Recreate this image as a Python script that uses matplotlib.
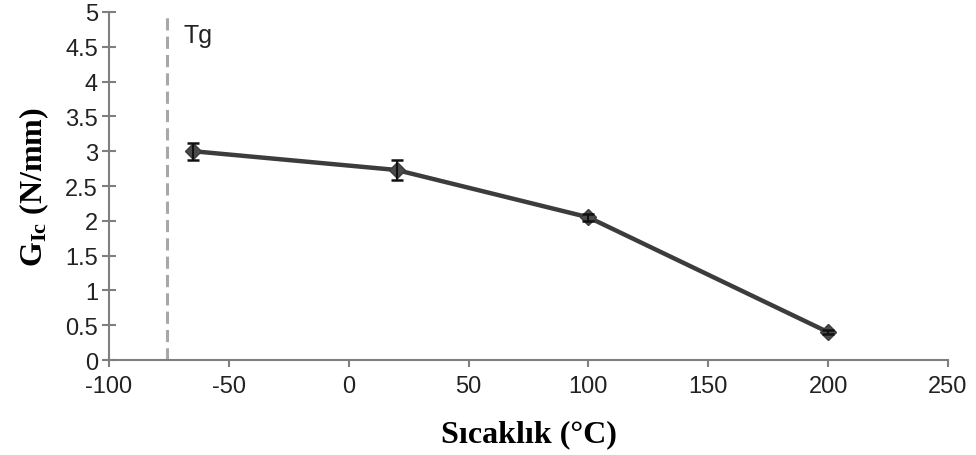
import matplotlib.pyplot as plt

plt.rcParams['mathtext.fontset'] = 'custom'
plt.rcParams['mathtext.bf'] = 'Liberation Serif:bold'
plt.rcParams['mathtext.rm'] = 'Liberation Serif'

# data
temps = [-65, 20, 100, 200]
gic = [3.0, 2.73, 2.05, 0.40]
gic_err = [0.12, 0.14, 0.05, 0.03]
tg = -76
x_ticks = [-100, -50, 0, 50, 100, 150, 200, 250]
y_ticks = [0, 0.5, 1, 1.5, 2, 2.5, 3, 3.5, 4, 4.5, 5]

fig = plt.figure(figsize=(9.76, 4.56), dpi=100)
ax = fig.add_axes([0.1117, 0.2083, 0.8596, 0.7632])

ax.axvline(tg, color='#a8a8a8', lw=2.2, ls=(0, (4, 2)), zorder=1)
ax.text(tg + 7, 4.57, 'Tg', fontsize=18, family='Liberation Sans',
        color='#222222', va='baseline')

ax.plot(temps, gic, color='#3c3c3c', lw=3.2, marker='D', ms=8,
        mfc='#4a4a4a', mec='#3c3c3c', zorder=3)
ax.errorbar(temps, gic, yerr=gic_err, fmt='none', ecolor='#111111',
            elinewidth=1.5, capsize=4, capthick=1.8, zorder=4)

ax.set_xlim(-100, 250)
ax.set_ylim(0, 5)
ax.set_xticks(x_ticks)
ax.set_yticks(y_ticks)
ax.set_xticklabels([str(v) for v in x_ticks])
ax.set_yticklabels([('%g' % v) for v in y_ticks])

for s in ['top', 'right']:
    ax.spines[s].set_visible(False)
for s in ['left', 'bottom']:
    ax.spines[s].set_color('#7f7f7f')
    ax.spines[s].set_linewidth(1.5)

ax.tick_params(axis='y', direction='inout', length=10, width=1.5,
               color='#7f7f7f', pad=3, labelsize=17, labelcolor='#222222')
ax.tick_params(axis='x', direction='out', length=5, width=1.5,
               color='#7f7f7f', pad=6, labelsize=17, labelcolor='#222222')
for lab in ax.get_xticklabels() + ax.get_yticklabels():
    lab.set_family('Liberation Sans')

ax.set_xlabel('Sıcaklık (°C)', fontsize=23, family='Liberation Serif',
              fontweight='bold', labelpad=16)
ax.set_ylabel(r'$\mathbf{G_{Ic}}$ (N/mm)', fontsize=23,
              family='Liberation Serif', fontweight='bold', labelpad=10)

fig.savefig('out.png', dpi=100)
